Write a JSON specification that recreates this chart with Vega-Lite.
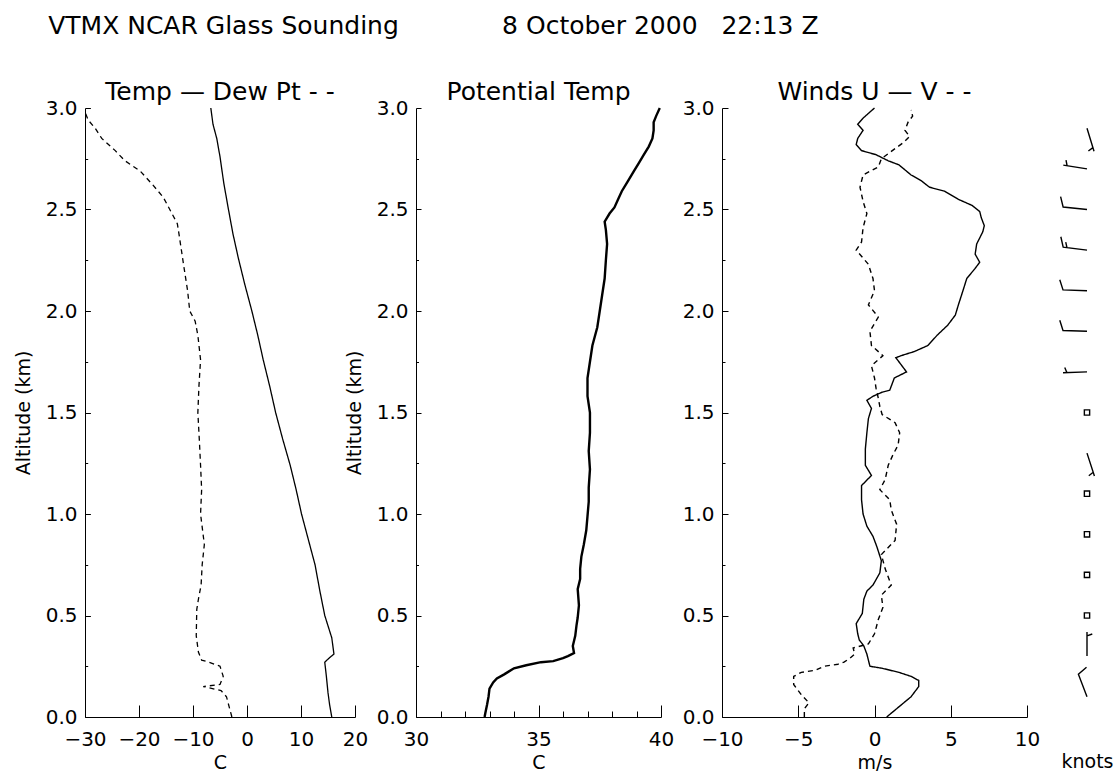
{
  "$schema": "https://vega.github.io/schema/vega-lite/v6.json",
  "padding": {"left": 14, "top": 14, "right": 5, "bottom": 5},
  "background": "white",
  "title": {"text": "VTMX NCAR Glass Sounding\u00a0\u00a0\u00a0\u00a0\u00a0\u00a0\u00a0\u00a0\u00a0\u00a0\u00a0\u00a0\u00a08 October 2000\u00a0\u00a0\u00a022:13 Z", "anchor": "start", "frame": "bounds", "fontSize": 25, "baseline": "alphabetic", "offset": 21, "dx": 34},
  "config": {
    "view": {"stroke": null},
    "font": "DejaVu Sans",
    "title": {"font": "DejaVu Sans", "fontWeight": "normal", "color": "black"},
    "axis": {"domainColor": "black", "tickColor": "black", "labelColor": "black", "titleColor": "black", "labelFont": "DejaVu Sans", "titleFont": "DejaVu Sans", "labelFontSize": 20, "titleFontSize": 19, "titleFontWeight": "normal", "grid": false, "labelOverlap": false, "labelFlush": false, "domainWidth": 1, "tickWidth": 1}
  },
  "datasets": {
    "tprof": [
      {"var": "Temp", "alt": 0.00, "val": 15.7}, {"var": "Temp", "alt": 0.06, "val": 15.3}, {"var": "Temp", "alt": 0.12, "val": 15.0}, {"var": "Temp", "alt": 0.20, "val": 14.7}, {"var": "Temp", "alt": 0.27, "val": 14.4}, {"var": "Temp", "alt": 0.29, "val": 15.2}, {"var": "Temp", "alt": 0.31, "val": 16.1}, {"var": "Temp", "alt": 0.39, "val": 15.7}, {"var": "Temp", "alt": 0.50, "val": 14.4}, {"var": "Temp", "alt": 0.62, "val": 13.5}, {"var": "Temp", "alt": 0.75, "val": 12.6}, {"var": "Temp", "alt": 0.88, "val": 11.3}, {"var": "Temp", "alt": 1.00, "val": 10.1}, {"var": "Temp", "alt": 1.12, "val": 9.1}, {"var": "Temp", "alt": 1.24, "val": 8.0}, {"var": "Temp", "alt": 1.37, "val": 6.6}, {"var": "Temp", "alt": 1.50, "val": 5.3}, {"var": "Temp", "alt": 1.63, "val": 4.2}, {"var": "Temp", "alt": 1.76, "val": 3.0}, {"var": "Temp", "alt": 1.88, "val": 2.0}, {"var": "Temp", "alt": 2.00, "val": 0.9}, {"var": "Temp", "alt": 2.13, "val": -0.4}, {"var": "Temp", "alt": 2.26, "val": -1.6}, {"var": "Temp", "alt": 2.38, "val": -2.6}, {"var": "Temp", "alt": 2.51, "val": -3.5}, {"var": "Temp", "alt": 2.63, "val": -4.3}, {"var": "Temp", "alt": 2.76, "val": -5.0}, {"var": "Temp", "alt": 2.85, "val": -5.6}, {"var": "Temp", "alt": 2.92, "val": -6.3}, {"var": "Temp", "alt": 3.00, "val": -6.7},
      {"var": "Dew Pt", "alt": 0.00, "val": -2.8}, {"var": "Dew Pt", "alt": 0.05, "val": -3.3}, {"var": "Dew Pt", "alt": 0.10, "val": -3.8}, {"var": "Dew Pt", "alt": 0.13, "val": -4.8}, {"var": "Dew Pt", "alt": 0.15, "val": -8.1}, {"var": "Dew Pt", "alt": 0.16, "val": -5.0}, {"var": "Dew Pt", "alt": 0.20, "val": -4.4}, {"var": "Dew Pt", "alt": 0.25, "val": -5.0}, {"var": "Dew Pt", "alt": 0.27, "val": -7.0}, {"var": "Dew Pt", "alt": 0.28, "val": -8.4}, {"var": "Dew Pt", "alt": 0.32, "val": -9.0}, {"var": "Dew Pt", "alt": 0.40, "val": -9.4}, {"var": "Dew Pt", "alt": 0.53, "val": -9.3}, {"var": "Dew Pt", "alt": 0.58, "val": -9.0}, {"var": "Dew Pt", "alt": 0.65, "val": -8.5}, {"var": "Dew Pt", "alt": 0.75, "val": -8.3}, {"var": "Dew Pt", "alt": 0.85, "val": -7.9}, {"var": "Dew Pt", "alt": 1.00, "val": -8.6}, {"var": "Dew Pt", "alt": 1.12, "val": -8.4}, {"var": "Dew Pt", "alt": 1.24, "val": -8.6}, {"var": "Dew Pt", "alt": 1.35, "val": -8.8}, {"var": "Dew Pt", "alt": 1.50, "val": -9.1}, {"var": "Dew Pt", "alt": 1.63, "val": -8.9}, {"var": "Dew Pt", "alt": 1.76, "val": -8.6}, {"var": "Dew Pt", "alt": 1.88, "val": -9.1}, {"var": "Dew Pt", "alt": 1.95, "val": -9.6}, {"var": "Dew Pt", "alt": 2.00, "val": -10.6}, {"var": "Dew Pt", "alt": 2.10, "val": -11.0}, {"var": "Dew Pt", "alt": 2.22, "val": -11.7}, {"var": "Dew Pt", "alt": 2.38, "val": -12.6}, {"var": "Dew Pt", "alt": 2.43, "val": -12.9}, {"var": "Dew Pt", "alt": 2.50, "val": -14.3}, {"var": "Dew Pt", "alt": 2.56, "val": -15.5}, {"var": "Dew Pt", "alt": 2.62, "val": -17.4}, {"var": "Dew Pt", "alt": 2.69, "val": -19.8}, {"var": "Dew Pt", "alt": 2.74, "val": -22.6}, {"var": "Dew Pt", "alt": 2.79, "val": -24.4}, {"var": "Dew Pt", "alt": 2.85, "val": -26.9}, {"var": "Dew Pt", "alt": 2.90, "val": -28.1}, {"var": "Dew Pt", "alt": 2.94, "val": -29.4}, {"var": "Dew Pt", "alt": 2.98, "val": -30.0}
    ],
    "theta": [
      {"alt": 0.00, "val": 32.8}, {"alt": 0.02, "val": 32.83}, {"alt": 0.06, "val": 32.9}, {"alt": 0.10, "val": 32.96}, {"alt": 0.14, "val": 33.0}, {"alt": 0.17, "val": 33.15}, {"alt": 0.19, "val": 33.3}, {"alt": 0.21, "val": 33.6}, {"alt": 0.24, "val": 34.0}, {"alt": 0.255, "val": 34.5}, {"alt": 0.27, "val": 35.1}, {"alt": 0.275, "val": 35.6}, {"alt": 0.29, "val": 36.0}, {"alt": 0.30, "val": 36.2}, {"alt": 0.315, "val": 36.45}, {"alt": 0.35, "val": 36.4}, {"alt": 0.40, "val": 36.5}, {"alt": 0.45, "val": 36.55}, {"alt": 0.49, "val": 36.6}, {"alt": 0.55, "val": 36.65}, {"alt": 0.63, "val": 36.6}, {"alt": 0.68, "val": 36.7}, {"alt": 0.73, "val": 36.7}, {"alt": 0.79, "val": 36.75}, {"alt": 0.85, "val": 36.85}, {"alt": 0.92, "val": 36.95}, {"alt": 0.99, "val": 37.0}, {"alt": 1.06, "val": 37.05}, {"alt": 1.13, "val": 37.05}, {"alt": 1.22, "val": 37.1}, {"alt": 1.31, "val": 37.05}, {"alt": 1.40, "val": 37.1}, {"alt": 1.50, "val": 37.1}, {"alt": 1.58, "val": 37.0}, {"alt": 1.67, "val": 37.0}, {"alt": 1.75, "val": 37.1}, {"alt": 1.83, "val": 37.2}, {"alt": 1.92, "val": 37.4}, {"alt": 2.00, "val": 37.5}, {"alt": 2.08, "val": 37.6}, {"alt": 2.16, "val": 37.7}, {"alt": 2.25, "val": 37.75}, {"alt": 2.33, "val": 37.8}, {"alt": 2.40, "val": 37.75}, {"alt": 2.44, "val": 37.7}, {"alt": 2.48, "val": 37.9}, {"alt": 2.51, "val": 38.1}, {"alt": 2.55, "val": 38.25}, {"alt": 2.59, "val": 38.4}, {"alt": 2.64, "val": 38.65}, {"alt": 2.69, "val": 38.9}, {"alt": 2.73, "val": 39.1}, {"alt": 2.77, "val": 39.3}, {"alt": 2.81, "val": 39.5}, {"alt": 2.85, "val": 39.65}, {"alt": 2.89, "val": 39.7}, {"alt": 2.93, "val": 39.7}, {"alt": 2.96, "val": 39.8}, {"alt": 3.00, "val": 39.95}
    ],
    "wind": [
      {"var": "U", "alt": 0.00, "val": 0.8}, {"var": "U", "alt": 0.05, "val": 1.6}, {"var": "U", "alt": 0.10, "val": 2.4}, {"var": "U", "alt": 0.15, "val": 2.9}, {"var": "U", "alt": 0.18, "val": 2.9}, {"var": "U", "alt": 0.20, "val": 2.4}, {"var": "U", "alt": 0.22, "val": 1.6}, {"var": "U", "alt": 0.24, "val": 0.5}, {"var": "U", "alt": 0.25, "val": -0.3}, {"var": "U", "alt": 0.28, "val": -0.4}, {"var": "U", "alt": 0.31, "val": -0.5}, {"var": "U", "alt": 0.35, "val": -0.7}, {"var": "U", "alt": 0.38, "val": -1.0}, {"var": "U", "alt": 0.41, "val": -1.1}, {"var": "U", "alt": 0.46, "val": -1.2}, {"var": "U", "alt": 0.51, "val": -0.8}, {"var": "U", "alt": 0.58, "val": -0.7}, {"var": "U", "alt": 0.62, "val": -0.5}, {"var": "U", "alt": 0.65, "val": -0.1}, {"var": "U", "alt": 0.71, "val": 0.35}, {"var": "U", "alt": 0.77, "val": 0.45}, {"var": "U", "alt": 0.84, "val": 0.15}, {"var": "U", "alt": 0.89, "val": -0.1}, {"var": "U", "alt": 0.94, "val": -0.5}, {"var": "U", "alt": 1.00, "val": -0.75}, {"var": "U", "alt": 1.07, "val": -0.85}, {"var": "U", "alt": 1.14, "val": -0.85}, {"var": "U", "alt": 1.19, "val": -0.2}, {"var": "U", "alt": 1.24, "val": -0.6}, {"var": "U", "alt": 1.32, "val": -0.6}, {"var": "U", "alt": 1.40, "val": -0.5}, {"var": "U", "alt": 1.47, "val": -0.4}, {"var": "U", "alt": 1.52, "val": -0.2}, {"var": "U", "alt": 1.56, "val": -0.5}, {"var": "U", "alt": 1.58, "val": -0.1}, {"var": "U", "alt": 1.60, "val": 0.5}, {"var": "U", "alt": 1.61, "val": 1.0}, {"var": "U", "alt": 1.67, "val": 1.3}, {"var": "U", "alt": 1.70, "val": 2.1}, {"var": "U", "alt": 1.73, "val": 1.8}, {"var": "U", "alt": 1.77, "val": 1.4}, {"var": "U", "alt": 1.78, "val": 1.75}, {"var": "U", "alt": 1.80, "val": 2.6}, {"var": "U", "alt": 1.83, "val": 3.5}, {"var": "U", "alt": 1.88, "val": 4.1}, {"var": "U", "alt": 1.93, "val": 4.8}, {"var": "U", "alt": 1.98, "val": 5.3}, {"var": "U", "alt": 2.03, "val": 5.5}, {"var": "U", "alt": 2.10, "val": 5.8}, {"var": "U", "alt": 2.16, "val": 6.05}, {"var": "U", "alt": 2.21, "val": 6.6}, {"var": "U", "alt": 2.24, "val": 6.9}, {"var": "U", "alt": 2.28, "val": 6.6}, {"var": "U", "alt": 2.33, "val": 6.7}, {"var": "U", "alt": 2.39, "val": 7.1}, {"var": "U", "alt": 2.42, "val": 7.2}, {"var": "U", "alt": 2.46, "val": 7.0}, {"var": "U", "alt": 2.49, "val": 6.9}, {"var": "U", "alt": 2.52, "val": 6.4}, {"var": "U", "alt": 2.55, "val": 5.5}, {"var": "U", "alt": 2.59, "val": 4.6}, {"var": "U", "alt": 2.61, "val": 3.6}, {"var": "U", "alt": 2.64, "val": 3.1}, {"var": "U", "alt": 2.67, "val": 2.4}, {"var": "U", "alt": 2.72, "val": 1.6}, {"var": "U", "alt": 2.74, "val": 0.9}, {"var": "U", "alt": 2.77, "val": 0.1}, {"var": "U", "alt": 2.79, "val": -0.85}, {"var": "U", "alt": 2.82, "val": -1.2}, {"var": "U", "alt": 2.85, "val": -1.1}, {"var": "U", "alt": 2.89, "val": -0.75}, {"var": "U", "alt": 2.92, "val": -1.1}, {"var": "U", "alt": 2.95, "val": -0.75}, {"var": "U", "alt": 2.98, "val": -0.3}, {"var": "U", "alt": 3.00, "val": 0.0},
      {"var": "V", "alt": 0.00, "val": -4.6}, {"var": "V", "alt": 0.04, "val": -4.6}, {"var": "V", "alt": 0.07, "val": -4.3}, {"var": "V", "alt": 0.11, "val": -4.8}, {"var": "V", "alt": 0.16, "val": -5.3}, {"var": "V", "alt": 0.20, "val": -5.3}, {"var": "V", "alt": 0.22, "val": -4.8}, {"var": "V", "alt": 0.23, "val": -3.9}, {"var": "V", "alt": 0.25, "val": -3.3}, {"var": "V", "alt": 0.26, "val": -2.4}, {"var": "V", "alt": 0.27, "val": -2.0}, {"var": "V", "alt": 0.29, "val": -1.6}, {"var": "V", "alt": 0.31, "val": -1.3}, {"var": "V", "alt": 0.34, "val": -1.4}, {"var": "V", "alt": 0.36, "val": -0.4}, {"var": "V", "alt": 0.41, "val": 0.0}, {"var": "V", "alt": 0.48, "val": 0.25}, {"var": "V", "alt": 0.54, "val": 0.55}, {"var": "V", "alt": 0.60, "val": 0.45}, {"var": "V", "alt": 0.65, "val": 1.1}, {"var": "V", "alt": 0.73, "val": 0.7}, {"var": "V", "alt": 0.80, "val": 0.45}, {"var": "V", "alt": 0.87, "val": 1.35}, {"var": "V", "alt": 0.95, "val": 1.45}, {"var": "V", "alt": 1.02, "val": 1.1}, {"var": "V", "alt": 1.07, "val": 1.0}, {"var": "V", "alt": 1.12, "val": 0.35}, {"var": "V", "alt": 1.17, "val": 0.7}, {"var": "V", "alt": 1.24, "val": 0.9}, {"var": "V", "alt": 1.29, "val": 1.2}, {"var": "V", "alt": 1.34, "val": 1.55}, {"var": "V", "alt": 1.40, "val": 1.65}, {"var": "V", "alt": 1.45, "val": 1.35}, {"var": "V", "alt": 1.49, "val": 0.5}, {"var": "V", "alt": 1.53, "val": 0.35}, {"var": "V", "alt": 1.57, "val": 0.25}, {"var": "V", "alt": 1.62, "val": 0.1}, {"var": "V", "alt": 1.67, "val": 0.0}, {"var": "V", "alt": 1.73, "val": -0.2}, {"var": "V", "alt": 1.78, "val": 0.55}, {"var": "V", "alt": 1.83, "val": -0.2}, {"var": "V", "alt": 1.90, "val": -0.3}, {"var": "V", "alt": 1.97, "val": 0.25}, {"var": "V", "alt": 2.03, "val": -0.4}, {"var": "V", "alt": 2.10, "val": 0.0}, {"var": "V", "alt": 2.16, "val": -0.1}, {"var": "V", "alt": 2.23, "val": -0.4}, {"var": "V", "alt": 2.30, "val": -1.2}, {"var": "V", "alt": 2.34, "val": -0.85}, {"var": "V", "alt": 2.41, "val": -0.75}, {"var": "V", "alt": 2.48, "val": -0.5}, {"var": "V", "alt": 2.54, "val": -0.75}, {"var": "V", "alt": 2.61, "val": -0.95}, {"var": "V", "alt": 2.67, "val": -0.75}, {"var": "V", "alt": 2.71, "val": 0.25}, {"var": "V", "alt": 2.75, "val": 0.45}, {"var": "V", "alt": 2.80, "val": 1.35}, {"var": "V", "alt": 2.83, "val": 1.9}, {"var": "V", "alt": 2.86, "val": 2.3}, {"var": "V", "alt": 2.89, "val": 2.0}, {"var": "V", "alt": 2.93, "val": 2.2}, {"var": "V", "alt": 2.96, "val": 2.5}, {"var": "V", "alt": 2.99, "val": 2.4}
    ],
    "barbs": [
      {"col": "s", "alt": 0.1, "dir": 339, "cls": "c10"},
      {"col": "s", "alt": 0.3, "dir": 0, "cls": "c5"},
      {"col": "s", "alt": 0.5, "dir": 0, "cls": "calm"},
      {"col": "s", "alt": 0.7, "dir": 0, "cls": "calm"},
      {"col": "s", "alt": 0.9, "dir": 0, "cls": "calm"},
      {"col": "s", "alt": 1.1, "dir": 0, "cls": "calm"},
      {"col": "s", "alt": 1.3, "dir": 162, "cls": "c5"},
      {"col": "s", "alt": 1.5, "dir": 0, "cls": "calm"},
      {"col": "s", "alt": 1.7, "dir": 268, "cls": "c5"},
      {"col": "s", "alt": 1.9, "dir": 272, "cls": "c10"},
      {"col": "s", "alt": 2.1, "dir": 272, "cls": "c10"},
      {"col": "s", "alt": 2.3, "dir": 277, "cls": "c15"},
      {"col": "s", "alt": 2.5, "dir": 276, "cls": "c10"},
      {"col": "s", "alt": 2.7, "dir": 279, "cls": "c5"},
      {"col": "s", "alt": 2.9, "dir": 163, "cls": "c5"}
    ]
  },
  "bounds": "flush",
  "spacing": 61,
  "hconcat": [
    {
      "width": 270, "height": 609,
      "title": {"text": "Temp — Dew Pt - -", "fontSize": 25, "baseline": "alphabetic", "offset": -27},
      "data": {"name": "tprof"},
      "mark": {"type": "line", "color": "black", "strokeWidth": 1.3},
      "encoding": {
        "x": {"field": "val", "type": "quantitative", "scale": {"domain": [-30, 20], "nice": false, "zero": false},
              "axis": {"values": [-30, -20, -10, 0, 10, 20], "title": "C", "tickSize": -12, "labelPadding": 24, "titlePadding": 4}},
        "y": {"field": "alt", "type": "quantitative", "scale": {"domain": [0, 3], "nice": false},
              "axis": {"values": [0, 0.25, 0.5, 0.75, 1, 1.25, 1.5, 1.75, 2, 2.25, 2.5, 2.75, 3], "format": ".1f",
                       "labelExpr": "datum.value % 0.5 === 0 ? datum.label : ''",
                       "tickSize": {"condition": {"test": "datum.value % 0.5 === 0", "value": -5.4}, "value": -2.7},
                       "labelPadding": 13.4, "title": "Altitude (km)", "titlePadding": 12}},
        "strokeDash": {"field": "var", "type": "nominal", "scale": {"domain": ["Temp", "Dew Pt"], "range": [[1, 0], [5, 4]]}, "legend": null},
        "order": {"field": "alt", "type": "quantitative"}
      }
    },
    {
      "width": 245, "height": 609,
      "title": {"text": "Potential Temp", "fontSize": 25, "baseline": "alphabetic", "offset": -27},
      "data": {"name": "theta"},
      "mark": {"type": "line", "color": "black", "strokeWidth": 2.4},
      "encoding": {
        "x": {"field": "val", "type": "quantitative", "scale": {"domain": [30, 40], "nice": false, "zero": false},
              "axis": {"values": [30, 31, 32, 33, 34, 35, 36, 37, 38, 39, 40], "title": "C",
                       "labelExpr": "datum.value % 5 === 0 ? datum.label : ''",
                       "tickSize": {"condition": {"test": "datum.value % 5 === 0", "value": -12}, "value": -6},
                       "labelPadding": 24, "titlePadding": -2}},
        "y": {"field": "alt", "type": "quantitative", "scale": {"domain": [0, 3], "nice": false},
              "axis": {"values": [0, 0.25, 0.5, 0.75, 1, 1.25, 1.5, 1.75, 2, 2.25, 2.5, 2.75, 3], "format": ".1f",
                       "labelExpr": "datum.value % 0.5 === 0 ? datum.label : ''",
                       "tickSize": {"condition": {"test": "datum.value % 0.5 === 0", "value": -5}, "value": -2.5},
                       "labelPadding": 13, "title": "Altitude (km)", "titlePadding": 12}},
        "order": {"field": "alt", "type": "quantitative"}
      }
    },
    {
      "bounds": "flush",
      "spacing": 40,
      "hconcat": [
        {
          "width": 305, "height": 609,
          "title": {"text": "Winds U — V - -", "fontSize": 25, "baseline": "alphabetic", "offset": -27},
          "layer": [
            {
              "mark": {"type": "rule", "color": "black", "strokeWidth": 1, "strokeDash": [3, 3]},
              "encoding": {"x": {"datum": 0}}
            },
            {
              "data": {"name": "wind"},
              "mark": {"type": "line", "color": "black", "strokeWidth": 1.4},
              "encoding": {
                "x": {"field": "val", "type": "quantitative", "scale": {"domain": [-10, 10], "nice": false, "zero": false},
                      "axis": {"values": [-10, -5, 0, 5, 10], "title": "m/s", "tickSize": -12, "labelPadding": 24, "titlePadding": 4}},
                "y": {"field": "alt", "type": "quantitative", "scale": {"domain": [0, 3], "nice": false},
                      "axis": {"values": [0, 0.25, 0.5, 0.75, 1, 1.25, 1.5, 1.75, 2, 2.25, 2.5, 2.75, 3], "format": ".1f",
                               "labelExpr": "datum.value % 0.5 === 0 ? datum.label : ''",
                               "tickSize": {"condition": {"test": "datum.value % 0.5 === 0", "value": -6}, "value": -3},
                               "labelPadding": 14, "title": null}},
                "strokeDash": {"field": "var", "type": "nominal", "scale": {"domain": ["U", "V"], "range": [[1, 0], [5, 4]]}, "legend": null},
                "order": {"field": "alt", "type": "quantitative"}
              }
            }
          ]
        },
        {
          "width": 40, "height": 609,
          "data": {"name": "barbs"},
          "mark": {"type": "point", "filled": false, "color": "black", "opacity": 1, "strokeWidth": 1.4},
          "encoding": {
            "x": {"field": "col", "type": "nominal", "scale": {"type": "point"},
                  "axis": {"title": "knots", "labels": false, "ticks": false, "domain": false, "titlePadding": 35}},
            "y": {"field": "alt", "type": "quantitative", "scale": {"domain": [0, 3], "nice": false}, "axis": null},
            "shape": {"field": "cls", "type": "nominal",
                      "scale": {"domain": ["calm", "c5", "c10", "c15"],
                                "range": ["M-0.11,-0.11L0.11,-0.11L0.11,0.11L-0.11,0.11Z", "M0,0L0,-1M0,-0.84L0.22,-0.92", "M0,0L0,-1L0.42,-1.15", "M0,0L0,-1L0.42,-1.15M0,-0.84L0.22,-0.92"]},
                      "legend": null},
            "angle": {"field": "dir", "type": "quantitative", "scale": null},
            "size": {"value": 2304}
          }
        }
      ]
    }
  ]
}
